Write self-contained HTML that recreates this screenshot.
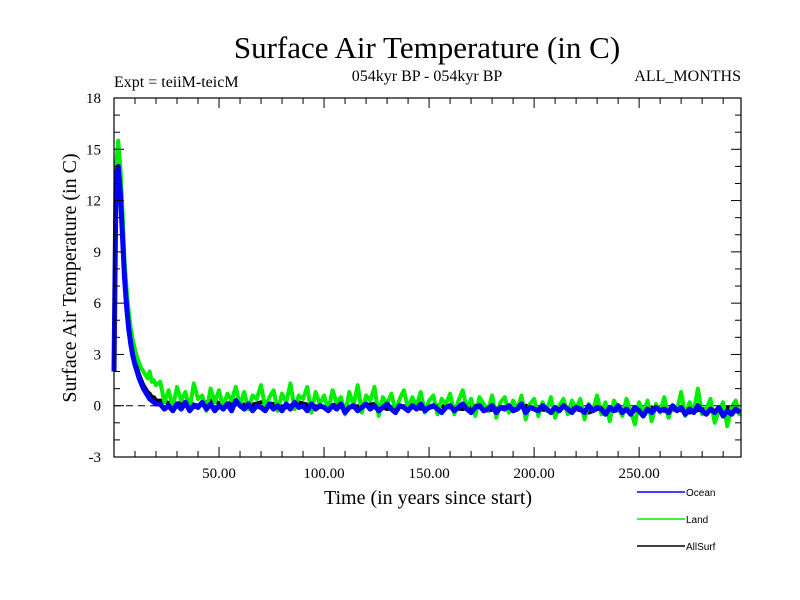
<!DOCTYPE html>
<html><head><meta charset="utf-8"><style>
body{margin:0;background:#fff}
svg{display:block;font-family:"Liberation Serif",serif}
</style></head><body>
<svg id="chart" width="800" height="600" viewBox="0 0 800 600">
<text x="427" y="58" font-size="31" text-anchor="middle">Surface Air Temperature (in C)</text>
<text x="114" y="87" font-size="16">Expt = teiiM-teicM</text>
<text x="427" y="81" font-size="16" text-anchor="middle">054kyr BP - 054kyr BP</text>
<text x="741" y="81" font-size="16" text-anchor="end">ALL_MONTHS</text>
<text transform="translate(76,278) rotate(-90)" font-size="20" text-anchor="middle">Surface Air Temperature (in C)</text>
<text x="428" y="504" font-size="20" text-anchor="middle">Time (in years since start)</text>
<g id="plot"></g>
<g id="axes"></g>
<g id="legend" font-family="Liberation Sans, sans-serif" font-size="10">
<line x1="637" y1="492" x2="685" y2="492" stroke="#0000ff" stroke-width="1.5"/>
<text x="686" y="496">Ocean</text>
<line x1="637" y1="519" x2="685" y2="519" stroke="#00ee00" stroke-width="1.5"/>
<text x="686" y="523">Land</text>
<line x1="637" y1="546" x2="685" y2="546" stroke="#000" stroke-width="1.5"/>
<text x="686" y="550">AllSurf</text>
</g>
</svg>
<script>
const xTicks=[50,100,150,200,250];
const xTickLabels=["50.00","100.00","150.00","200.00","250.00"];
const yTicks=[-3,0,3,6,9,12,15,18];
const landEarly=[3,14,15.5,14,11.5,8.5,6.8,5.5,4.5,3.8,3.3,2.8,2.5,2.2,2.0,1.8,1.6,2.0,1.4,1.5,1.2];
const landLate=[1.4,0.2,0.9,-0.1,1.1,0.3,0.8,-0.2,1.3,0.4,
0.6,-0.3,1.0,0.2,0.9,-0.1,0.7,0.3,1.1,0.0,
0.8,-0.2,0.6,0.4,1.2,-0.1,0.5,0.9,-0.3,0.7,
0.2,1.3,-0.2,0.6,0.4,1.1,-0.4,0.8,0.1,0.6,
-0.3,0.9,0.2,0.5,-0.5,0.8,0.0,1.2,-0.4,0.6,
0.3,1.1,-0.6,0.5,0.1,0.7,-0.3,0.4,0.9,-0.2,
0.5,0.0,0.8,-0.4,0.3,0.6,-0.5,0.4,0.1,0.7,
-0.5,0.3,0.9,-0.2,0.4,-0.6,0.5,0.1,-0.3,0.6,
-0.7,0.2,0.5,-0.4,0.3,-0.2,0.6,-0.8,0.1,0.4,
-0.6,0.2,-0.3,0.5,-0.7,0.0,0.4,-0.5,0.3,-0.2,
0.4,-0.8,0.1,-0.3,0.6,-0.5,0.2,-0.9,0.3,-0.1,
-0.6,0.4,-0.3,-1.1,0.2,-0.5,0.3,-0.9,0.1,-0.4,
0.5,-0.7,0.0,-0.3,0.8,-0.6,0.2,-0.4,1.0,-0.5,
-0.2,0.4,-1.0,-0.3,0.2,-1.2,-0.1,0.3,-0.6];
const oceanEarly=[2,13.5,14,12.5,10,7.5,5.8,4.5,3.6,2.9,2.4,2,1.6,1.3,1.0,0.8,0.6,0.4,0.3,0.2,0.1];
const oceanLate=[0.1,-0.2,0.0,-0.3,0.1,-0.2,0.2,-0.3,0.0,-0.1,
0.2,-0.2,0.1,-0.3,0.0,-0.2,0.1,-0.3,0.3,0.0,
-0.2,0.1,-0.3,0.0,-0.1,-0.3,0.1,-0.2,0.0,-0.3,
0.1,-0.2,0.2,-0.1,0.0,-0.3,0.1,-0.2,0.0,-0.1,
-0.3,0.0,-0.2,0.1,-0.4,-0.1,0.0,-0.3,-0.1,0.1,
-0.2,0.0,-0.3,-0.1,0.1,-0.2,-0.4,0.0,-0.1,-0.3,
0.0,-0.2,0.1,-0.3,-0.1,0.0,-0.2,-0.4,-0.1,0.0,
-0.3,-0.1,0.1,-0.2,-0.4,-0.1,0.0,-0.3,-0.2,0.0,
-0.4,-0.1,-0.2,0.0,-0.3,-0.2,0.1,-0.4,-0.1,-0.2,
-0.3,0.0,-0.2,-0.4,-0.1,-0.3,0.0,-0.2,-0.4,-0.1,
-0.2,-0.4,0.0,-0.3,-0.1,-0.2,-0.5,-0.1,-0.3,0.0,
-0.4,-0.2,-0.5,-0.1,-0.3,-0.6,-0.2,-0.4,-0.1,-0.3,
-0.2,-0.4,0.0,-0.3,-0.1,-0.5,-0.2,-0.4,0.0,-0.3,
-0.5,-0.2,-0.4,-0.1,-0.6,-0.3,-0.5,-0.2,-0.4];
const allEarly=[2.2,13.7,14.4,12.9,10.4,7.8,6.1,4.8,3.9,3.2,2.7,2.2,1.8,1.5,1.2,1.0,0.8,0.7,0.5,0.5,0.3];
const allLate=[0.3,0.1,0.2,0.0,0.3,0.1,0.2,0.0,0.2,0.1,-0.1,0.2,0.0,-0.1,0.1,-0.1,0.0,0.1,-0.2,0.0,-0.1,-0.2,0.0,-0.1,-0.2,0.0,-0.3,-0.1,-0.2,0.0,-0.2,-0.3,-0.1,-0.2,-0.4,-0.1,-0.3,-0.2,-0.4,-0.1,-0.3,-0.2,-0.4,-0.2,-0.3,-0.1,-0.4];

const L=114,R=741,T=98,B=457,XMAX=298.5,YMIN=-3,YMAX=18;
const xs=v=>L+v/XMAX*(R-L);
const ys=v=>B-(v-YMIN)/(YMAX-YMIN)*(B-T);
const NS="http://www.w3.org/2000/svg";
function mk(tag,attrs,parent){const e=document.createElementNS(NS,tag);for(const k in attrs)e.setAttribute(k,attrs[k]);parent.appendChild(e);return e;}
const plot=document.getElementById('plot'),axes=document.getElementById('axes');

const zl=mk('line',{x1:L,x2:R,y1:ys(0),y2:ys(0),stroke:'#000','stroke-dasharray':'7,5','stroke-width':1},plot);



function series(early,late,step,color,w,name){
  const pts=[];
  early.forEach((v,i)=>pts.push([i,v]));
  late.forEach((v,i)=>pts.push([22+i*step,v]));
  const d=pts.map((p,i)=>(i?'L':'M')+xs(p[0]).toFixed(1)+','+ys(p[1]).toFixed(1)).join('');
  const p=mk('path',{d:d,fill:'none',stroke:color,'stroke-width':w,'stroke-linejoin':'round'},plot);
  
  
}
series(allEarly,allLate,6,'#000',4,'allsurf-series');
series(landEarly,landLate,2,'#00ee00',4,'land-series');
series(oceanEarly,oceanLate,2,'#0000ff',5,'ocean-series');

const fr=mk('rect',{x:L,y:T,width:R-L,height:B-T,fill:'none',stroke:'#000','stroke-width':1.2},axes);


for(let v=10;v<XMAX;v+=10){
  const big=v%50===0,len=big?10:6;
  mk('line',{x1:xs(v),x2:xs(v),y1:B,y2:B-len,stroke:'#000'},axes);
  mk('line',{x1:xs(v),x2:xs(v),y1:T,y2:T+len,stroke:'#000'},axes);
}
for(let v=YMIN+1;v<YMAX;v++){
  const big=v%3===0,len=big?10:6;
  mk('line',{x1:L,x2:L+len,y1:ys(v),y2:ys(v),stroke:'#000'},axes);
  mk('line',{x1:R,x2:R-len,y1:ys(v),y2:ys(v),stroke:'#000'},axes);
}
xTicks.forEach((v,i)=>{
  const t=mk('text',{x:xs(v),y:B+21,'font-size':15,'text-anchor':'middle'},axes);
  t.textContent=xTickLabels[i];
  
  
});
yTicks.forEach(v=>{
  const t=mk('text',{x:L-13,y:ys(v)+5,'font-size':15,'text-anchor':'end'},axes);
  t.textContent=String(v);
  
  
});
</script>
</body></html>
